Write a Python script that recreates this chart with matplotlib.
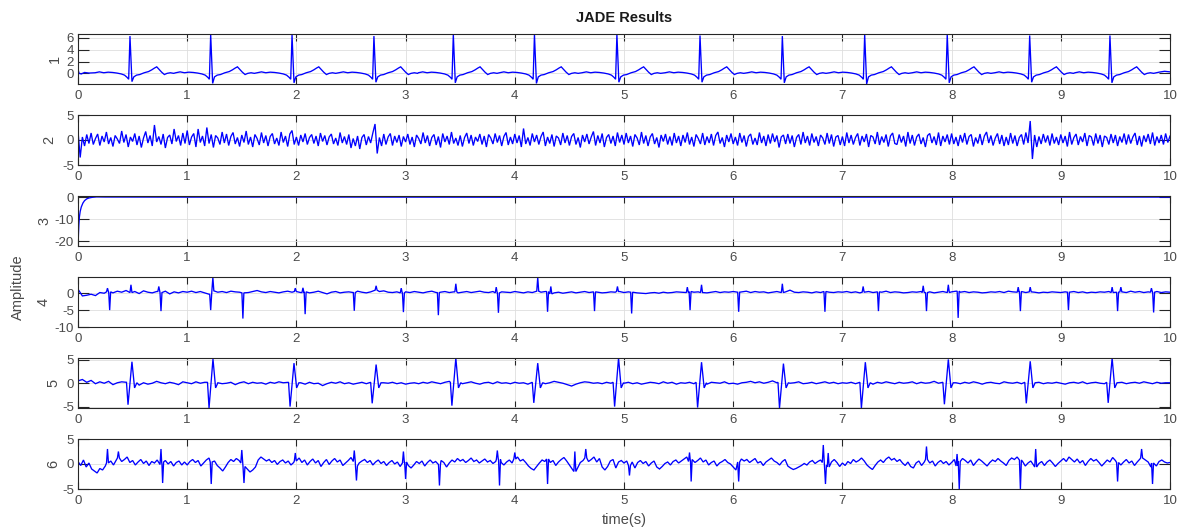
import numpy as np
import matplotlib
matplotlib.use("Agg")
import matplotlib.pyplot as plt

plt.rcParams["font.family"] = ["Liberation Sans", "DejaVu Sans"]
plt.rcParams["axes.unicode_minus"] = False

# ---------------------------------------------------------------- data
# Component 1: ECG-like source (R-peak times, R and S amplitudes, beat shape)
p1_r_times = [0.476, 1.215, 1.96, 2.71, 3.437, 4.18, 4.935, 5.696, 6.45, 7.204, 7.96, 8.715, 9.45]
p1_r_peak = [6.3, 6.6, 6.5, 6.3, 6.6, 6.6, 6.6, 6.4, 6.3, 6.6, 6.6, 6.4, 6.4]
p1_s_trough = [-1.4, -1.7, -1.6, -1.5, -1.6, -1.7, -1.5, -1.5, -1.6, -1.8, -1.6, -1.5, -1.6]
p1_beat_offsets = [-0.32, -0.28, -0.24, -0.2, -0.16, -0.12, -0.08, -0.05, -0.025, -0.012, 0.0,
                   0.018, 0.035, 0.06, 0.09, 0.13, 0.17, 0.2, 0.225, 0.245, 0.265, 0.29, 0.315,
                   0.34, 0.37, 0.40]
p1_beat_shape = [0.1, 0.25, 0.1, 0.2, 0.15, 0.05, -0.1, -0.3, -0.7, -1.0, None,
                 None, -0.6, -0.3, -0.2, 0.1, 0.3, 0.6, 0.9, 1.1, 0.7, 0.2, -0.2,
                 0.0, 0.1, 0.0]
p1_lead_t = [0.0, 0.01, 0.03, 0.06, 0.1]
p1_lead_v = [0.7, 0.0, -0.1, 0.15, 0.05]
p1_tail_t = [9.9, 9.95, 10.0]
p1_tail_v = [0.2, 0.35, 0.25]

# Component 2: broadband noise, 0.02 s samples (tenths)
p2_dt = 0.02
p2_tenths = [
    18, -35, 6, -12, 11, -7, 14, -9, 3, 12, -11, 8, -4, 16, -8, 5, -13, 9, 2, -7, 18, -5, 11, -14, 6,
    -3, 13, -10, 8, -15, 4, 17, -6, 9, -12, 30, -4, 7, -9, 12, -16, 5, 10, -8, 22, -3, 9, -11, 14, -7,
    19, -10, 6, 13, -14, 22, -5, 8, -12, 25, -7, 11, -15, 9, 4, -9, 16, -6, 12, -11, 7, 15, -8, 5, -13,
    10, -5, 18, -9, 6, -14, 11, 3, -10, 15, -6, 9, -12, 7, 13, -8, 4, -11, 16, -5, 8, -13, 12, 19, -9,
    6, -11, 10, -4, 13, -9, 5, 11, -7, 8, -12, 14, -3, 9, -10, 6, 12, -8, 4, -11, 15, -6, 7, -9, 11,
    -16, 3, -12, 8, -18, 5, 11, -10, 7, -6, 14, 32, -27, 5, -12, 12, -9, 6, 13, -11, 8, -5, 10, -13, 7,
    -4, 12, -9, 6, -14, 10, 3, -8, 15, -6, 9, -12, 5, 11, -10, 7, -15, 13, -4, 8, -9, 16, -7, 4, -11,
    9, -13, 5, 14, -7, 10, -11, 6, -3, 12, -9, 8, -14, 11, 4, -8, 13, -5, 9, -12, 7, 15, -10, 6, -8,
    12, -6, 9, -14, 23, -8, 5, -11, 13, -4, 10, -9, 7, 16, -12, 6, -7, 11, -13, 8, 4, -10, 14, -6, 9,
    -11, 7, 13, -9, 5, -15, 10, -4, 12, -8, 6, 17, -11, 9, -6, 13, -14, 5, 11, -7, 8, -12, 15, -5, 10,
    -9, 14, -6, 8, -13, 11, 4, -10, 16, -7, 9, -12, 6, 13, -8, 5, -15, 10, -3, 12, -9, 7, -11, 14, -6,
    8, -12, 10, -5, 15, -9, 6, -13, 11, 3, -8, 14, -10, 7, -6, 12, -11, 9, 16, -7, 5, -14, 10, -4, 13,
    -8, 6, -11, 14, -5, 9, -13, 7, 12, -9, 4, -10, 15, -6, 8, -12, 11, -7, 13, -4, 9, -15, 6, 10, -8,
    12, -7, 9, -14, 5, 11, -9, 16, -6, 8, -11, 13, -5, 7, -12, 10, 4, -9, 14, -7, 11, -13, 6, 9, -10,
    7, -12, 15, -6, 10, -9, 5, 13, -11, 8, -4, 12, -14, 9, 6, -8, 16, -10, 7, -5, 11, -13, 8, 14, -7,
    -9, 11, -5, 8, -13, 16, -7, 10, -11, 6, 12, -8, 5, -14, 9, 13, -6, 7, -10, 15, -12, 8, -4, 11, -9,
    13, -8, 6, -12, 10, -5, 14, -9, 7, 11, -13, 5, -7, 12, -10, 8, 16, -6, 9, -11, 4, 13, -8, 10, -12,
    6, -10, 14, -7, 9, -12, 5, 11, -9, 15, -6, 38, -38, 10, -14, 7, -8, 12, -5, 9, -11, 13, -7, 6, -10,
    11, -6, 8, -13, 16, -9, 5, 12, -10, 7, -4, 14, -12, 9, 6, -11, 13, -7, 10, -14, 8, 5, -9, 12, -6,
    10, -12, 7, -5, 13, -9, 11, -7, 6, 14, -10, 8, -13, 9, -4, 12, -8, 15, -11, 7, -6, 10, -9, 13, -5,
    8,
]

# Component 3: decaying transient then flat
p3_t = [0.0, 0.001, 0.004, 0.008, 0.013, 0.02, 0.03, 0.045, 0.06, 0.08, 0.10, 0.13, 0.17, 0.25,
        1, 2, 3, 4, 5, 6, 7, 8, 9, 10]
p3_v = [-6.0, -22.0, -17.0, -12.5, -9.0, -6.5, -4.5, -2.7, -1.6, -0.8, -0.4, -0.1, 0.1, 0.05,
        0.0, 0.05, 0.0, -0.05, 0.0, 0.05, 0.0, 0.0, 0.05, 0.0]

# Component 4: baseline (0.04 s samples, tenths) and sharp deflections
p4_dt = 0.04
p4_tenths = [
    12, -8, -6, -3, -7, 2, 0, 4, 1, 6, 3, 8, 2, 5, -1, 7, 3, 1, 5, 2, 6, -2, 4, 1, 5,
    3, 6, 2, 5, 1, -3, 7, 3, 5, 2, 6, 4, 3, 1, 2, 5, 8, 4, 2, 5, 3, 1, 4, 6, 3,
    5, 2, 4, 1, 3, 6, 2, -2, 3, 5, 1, 3, 4, 2, 6, 3, 1, 4, 9, 5, 7, 3, 2, 4, 1,
    4, 2, 5, 3, 1, 4, 6, 2, 3, 5, 2, 4, 1, 3, 5, 2, 4, 6, 3, 2, 5, 1, 4, 3, 2,
    5, 3, 1, 4, 2, 6, 3, 5, -2, 1, 3, 0, 2, 4, 1, 3, 5, 2, 4, 3, 1, 2, 4, 3, 5,
    2, 4, 3, 1, 0, -1, 1, 2, 0, 3, 1, 2, 4, 3, 2, 5, 3, 4, 2, 1, 3, 5, 2, 4, 3,
    5, 3, 4, 6, 2, 5, 3, 4, 1, 3, 5, 2, 4, 9, 3, 2, 4, 3, 1, 4, 2, 5, 3, 2, 4,
    3, 5, 2, 4, 1, 3, 5, 2, 4, 3, 6, 2, 4, 3, 1, 2, 4, 3, 5, 2, 4, 1, 3, 5, 2,
    4, 6, 3, 5, 2, 4, 3, 1, 2, 4, 3, 5, 2, 6, 4, 3, 5, 2, 4, 3, 1, 3, 2, 4, 3,
    2, 4, 3, 5, 2, 4, 1, 3, 2, 4, 3, 5, 2, 3, 4, 2, 6, 3, 5, 2, 4, 3, 5, 2, 4,
    3,
]
p4_spike_t = [0.27, 0.29, 0.485, 0.74, 0.76, 1.215, 1.235, 1.51, 1.99, 2.06, 2.08, 2.53, 2.73,
              2.96, 2.98, 3.30, 3.46, 3.83, 3.85, 4.21, 4.30, 4.33, 4.73, 4.94, 5.07, 5.58,
              5.605, 5.71, 6.05, 6.45, 6.84, 7.19, 7.33, 7.74, 7.77, 7.97, 8.06, 8.61, 8.63,
              8.72, 9.07, 9.47, 9.52, 9.55, 9.83, 9.85]
p4_spike_v = [1.5, -5.0, 2.5, 2.0, -5.3, -5.0, 4.7, -7.5, 1.5, 1.6, -6.2, -5.2, 2.2,
              1.5, -5.6, -6.5, 2.8, 1.8, -5.8, 4.7, -5.5, 2.0, -5.3, 2.0, -6.0, 1.8,
              -5.0, 2.5, -5.5, 2.8, -5.5, 2.0, -5.3, 2.2, -5.3, 2.5, -7.3, 1.8, -5.3,
              1.8, -5.0, 1.8, -5.3, 1.8, 1.5, -5.7]

# Component 5: baseline (0.04 s samples, tenths) and biphasic complexes
p5_dt = 0.04
p5_tenths = [
    5, 8, 2, 6, -1, 3, 0, 4, -3, 1, 3, -1, 2, 0, -4, 1, -2, 0, 4, 1, -1, 2, 0, -3, 3,
    1, -1, 3, 0, 2, -2, 1, 4, -1, 0, 2, -3, 1, 3, -1, 2, 0, 1, -2, 2, 0, 3, 1, -1, 2,
    0, 1, -2, 2, -1, 0, -5, -1, 2, 0, 3, -1, 1, -2, 0, 2, -1, 3, 0, -2, 1, 0, 2, -1, 1,
    -2, 0, 1, -1, 2, 0, 3, 1, -1, 2, 4, 0, 2, -1, 1, 3, 0, -2, 1, 2, -1, 3, 0, 1, -1,
    2, 0, 1, -2, 3, 0, 2, -1, 1, 4, 2, 0, -3, -6, -2, 1, 3, 2, 0, 1, -1, 2, 0, -2, 1,
    0, 2, -1, 1, -2, 0, 2, 1, -1, 3, 0, 2, -2, 1, 0, 2, -1, 1, 0, -2, 2, 1, 0, 3, -1,
    0, -2, 1, 2, 4, 1, 3, 0, 2, 5, 1, -1, 2, 0, 1, 3, -1, 0, 2, -1, 1, 3, 0, 2, -1,
    1, 0, 2, -1, 3, 0, 1, -2, 2, 0, 3, 1, -1, 2, 0, 1, 3, -1, 2, 0, 1, 4, 0, 2, -1,
    0, 1, -1, 2, 0, 3, 1, -2, 1, 2, 0, -1, 3, 1, 0, 2, -1, 1, 3, 0, 2, -1, 1, 0, 2,
    0, -2, 1, 2, 0, 3, -1, 1, 2, 0, -1, 3, 1, 0, 2, -1, 1, 2, 0, 3, 1, -1, 2, 0, 1,
    1,
]
p5_peak_times = [0.494, 1.236, 1.978, 2.73, 3.46, 4.21, 4.95, 5.71, 6.46, 7.21, 7.97, 8.72, 9.47]
p5_peak_v = [4.6, 5.2, 4.3, 4.0, 5.4, 4.3, 5.4, 4.5, 4.2, 4.5, 5.1, 4.7, 5.4]
p5_trough_v = [-4.6, -5.3, -5.0, -4.3, -4.8, -4.2, -5.0, -5.2, -5.3, -5.3, -4.5, -4.3, -4.2]
p5_beat_offsets = [-0.05, -0.036, 0.0, 0.024, 0.045]
p5_beat_shape = [0.2, None, None, -1.0, 0.1]

# Component 6: noise (0.025 s samples, tenths) and spikes
p6_dt = 0.025
p6_tenths = [
    5, -3, 8, -6, 2, -10, -14, -18, -9, -12, -4, 2, 6, -2, 8, 12, 5, 9, 14, 3, 7, -2, 4, 9, 1, 6, -3, 5, 2, 8, -1, 4, 7, 0, 5, -4, 3, 6, -2, 4,
    -2, 5, 9, 3, 7, -4, 2, 8, 12, 4, 6, -3, -8, -14, -6, 3, 9, 5, 11, 7, 2, -5, -10, -16, -12, -6, 8, 14, 10, 6, 9, 3, 7, -1, 5, 8, 2, 6, -2, 3,
    6, 12, 3, 8, -2, 5, 10, 2, 7, -5, 3, 9, -1, 6, 11, 4, 8, -3, 2, 7, 13, 5, -4, 2, 6, 9, 3, 7, -2, 4, 8, 1, 5, -3, 3, 7, 0, 4, -5, 2,
    4, -3, -8, -2, 5, 1, 6, -4, 3, 8, 2, 5, -1, 7, 3, -6, 2, 8, 4, 11, 6, 9, 3, 7, 12, 5, 8, 2, 6, 10, 4, 7, 1, 5, 9, 3, -2, 4, 8, 2,
    10, 14, 6, 9, 3, -4, -9, -12, -5, 2, 8, 5, 10, 3, 7, -3, 4, 9, 13, 6, -2, -10, -15, -8, 3, 7, 12, 5, 9, 14, 4, 11, -6, -12, -5, 6, 9, -8, 4, 7,
    2, 6, -3, 4, -8, 3, 7, 1, 5, -4, 2, 6, -6, -10, -5, 1, 4, -2, 5, 8, 2, 6, 10, 14, 5, 9, 3, 7, 12, 4, 8, -2, 3, 6, -4, 2, 5, 9, 3, 0,
    -6, -12, 4, 10, 6, 9, 3, 7, 11, 2, 5, -3, 4, 8, 12, 6, 3, -2, 5, 9, -4, -8, -11, -9, -6, -3, 1, -2, 4, 7, 1, 5, 8, 3, -2, -6, 4, 9, 3, -5,
    2, -3, 5, 1, 9, 4, 7, 12, 6, -2, -7, -11, -3, 4, 8, 3, 10, 14, 8, 11, 5, 9, 2, -3, 4, -5, -8, 2, 6, -3, 4, 9, 2, 6, -4, 3, 7, 1, 5, -2,
    3, 9, -4, 5, 11, 7, 2, 8, -3, 4, 10, 6, 1, -4, 3, 8, 5, 11, 6, 2, -3, 7, 12, 9, 14, 8, 5, -4, 2, 6, -2, -6, 1, 5, -3, 4, 8, 2, -5, 1,
    6, 11, 5, 14, 9, 4, 10, 2, 7, -3, 5, 11, 6, 9, 3, -4, 2, 8, 4, 13, 7, 3, -2, 4, 9, 2, 6, -3, 4, 10, 12, 8, 4, -6, 2, -4, 5, 8, 4, 2,
    3,
]
p6_spike_t = [0.27, 0.37, 0.76, 0.775, 1.22, 1.50, 1.52, 1.99, 2.53, 2.55, 2.98, 3.0, 3.31,
              3.84, 3.86, 4.0, 4.30, 4.55, 4.65, 5.05, 5.60, 5.615, 6.05, 6.825, 6.845, 6.87,
              7.77, 8.05, 8.07, 8.63, 8.77, 9.52, 9.74, 9.84]
p6_spike_v = [3.0, 2.5, 3.0, -3.8, -4.0, 2.8, -3.8, 2.2, 2.7, -3.3, 2.5, -3.0, -4.3,
              2.7, -4.3, 2.3, -4.0, 2.5, 3.0, -2.3, 2.3, -3.5, -3.5, 3.8, -4.0, 2.2,
              3.5, 2.0, -5.0, -5.0, 3.0, -3.5, 3.0, -4.0]

panel_labels = ["1", "2", "3", "4", "5", "6"]
panel_ylims = [(-1.8, 6.65), (-5, 5), (-22.2, 0.5), (-10, 4.8), (-5.3, 5.4), (-5, 5)]
panel_yticks = [[0, 2, 4, 6], [-5, 0, 5], [-20, -10, 0], [-10, -5, 0], [-5, 0, 5], [-5, 0, 5]]


# ---------------------------------------------------------------- helpers
def sampled(dt, tenths):
    v = np.asarray(tenths, dtype=float) / 10.0
    return np.arange(len(v)) * dt, v


def with_beats(base_t, base_v, centres, offsets, shapes, window):
    """Replace the baseline around each centre by its beat points."""
    keep = np.ones(len(base_t), dtype=bool)
    pts_t, pts_v = [], []
    for c, shape in zip(centres, shapes):
        keep &= ~((base_t > c + window[0]) & (base_t < c + window[1]))
        pts_t += [c + o for o in offsets]
        pts_v += list(shape)
    t = np.concatenate([base_t[keep], pts_t])
    v = np.concatenate([base_v[keep], pts_v])
    order = np.argsort(t, kind="stable")
    return t[order], v[order]


def with_spikes(base_t, base_v, times, values, hw=0.009):
    keep = np.ones(len(base_t), dtype=bool)
    pts_t, pts_v = [], []
    for c, val in zip(times, values):
        keep &= np.abs(base_t - c) > hw * 1.2
        b = base_v[np.argmin(np.abs(base_t - c))]
        pts_t += [c - hw, c, c + hw]
        pts_v += [b, val, b]
    t = np.concatenate([base_t[keep], pts_t])
    v = np.concatenate([base_v[keep], pts_v])
    order = np.argsort(t, kind="stable")
    return t[order], v[order]


# ---------------------------------------------------------------- traces
# 1: beats assembled from the beat shape
t1, v1 = list(p1_lead_t), list(p1_lead_v)
for r_t, r_v, s_v in zip(p1_r_times, p1_r_peak, p1_s_trough):
    shape = [r_v if i == 10 else s_v if i == 11 else s for i, s in enumerate(p1_beat_shape)]
    t1 += [r_t + o for o in p1_beat_offsets]
    v1 += shape
t1 += p1_tail_t
v1 += p1_tail_v
order = np.argsort(t1, kind="stable")
t1, v1 = np.asarray(t1)[order], np.asarray(v1)[order]

t2, v2 = sampled(p2_dt, p2_tenths)
t3, v3 = np.asarray(p3_t), np.asarray(p3_v)

b4_t, b4_v = sampled(p4_dt, p4_tenths)
t4, v4 = with_spikes(b4_t, b4_v, p4_spike_t, p4_spike_v)

b5_t, b5_v = sampled(p5_dt, p5_tenths)
p5_shapes = [[tr if s is None and i == 1 else pk if s is None else s
              for i, s in enumerate(p5_beat_shape)]
             for pk, tr in zip(p5_peak_v, p5_trough_v)]
t5, v5 = with_beats(b5_t, b5_v, p5_peak_times, p5_beat_offsets, p5_shapes, (-0.06, 0.05))

b6_t, b6_v = sampled(p6_dt, p6_tenths)
t6, v6 = with_spikes(b6_t, b6_v, p6_spike_t, p6_spike_v)

traces = [(t1, v1), (t2, v2), (t3, v3), (t4, v4), (t5, v5), (t6, v6)]

# ---------------------------------------------------------------- figure
W, H = 1178, 529
fig = plt.figure(figsize=(W / 100, H / 100), dpi=100)

left_px, width_px, height_px = 78, 1092, 50
tops_px = [34, 115, 196, 277, 358, 439]
label_x_px = [55, 49, 44, 44, 53, 53]
ink = "#262626"
label_ink = "#4a4a4a"

for (t, v), top, lab, lx, ylim, yt in zip(traces, tops_px, panel_labels, label_x_px,
                                          panel_ylims, panel_yticks):
    ax = fig.add_axes([left_px / W, 1 - (top + height_px) / H, width_px / W, height_px / H])
    ax.plot(t, v, color="#0000ff", lw=0.95, solid_joinstyle="miter")
    ax.set_xlim(0, 10)
    ax.set_ylim(*ylim)
    ax.set_xticks(range(11))
    ax.set_yticks(yt)
    ax.grid(True, color="#dedede", lw=0.6)
    ax.set_axisbelow(True)
    ax.tick_params(direction="in", top=True, right=True, color=ink,
                   labelcolor=label_ink, labelsize=9.5, width=0.8)
    ax.tick_params(axis="x", length=5, pad=4)
    ax.tick_params(axis="y", length=8, pad=3)
    for s in ax.spines.values():
        s.set_color(ink)
        s.set_linewidth(0.8)
    fig.text(lx / W, 1 - (top + height_px / 2) / H, lab, rotation=90,
             ha="center", va="center", fontsize=10.5, color=label_ink)

fig.text(624 / W, 1 - 18 / H, "JADE Results", ha="center", va="center",
         fontsize=10.5, fontweight="bold", color="#1a1a1a")
fig.text(18 / W, 1 - 287 / H, "Amplitude", rotation=90, ha="center", va="center",
         fontsize=10.5, color=label_ink)
fig.text(624 / W, 1 - 520 / H, "time(s)", ha="center", va="center",
         fontsize=10.5, color=label_ink)

fig.savefig("out.png", dpi=100)
